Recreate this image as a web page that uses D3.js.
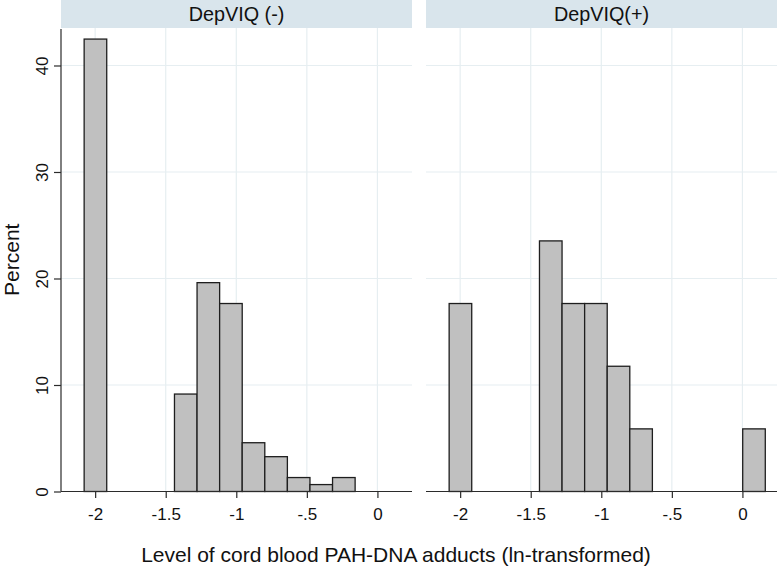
<!DOCTYPE html>
<html>
<head>
<meta charset="utf-8">
<script src="https://cdn.jsdelivr.net/npm/d3@7"></script>
<style>
  html, body { margin: 0; padding: 0; background: #ffffff; }
  svg { display: block; font-family: "Liberation Sans", Arial, Helvetica, sans-serif; }
</style>
</head>
<body>
<svg id="chart" width="779" height="569"></svg>
<script>
// ---- Data ----
const panelTitles = ["DepVIQ (-)", "DepVIQ(+)"];
const binWidth = 0.16;
// lower edges of the histogram bins (ln-transformed adduct level)
const leftBinStarts  = [-2.078, -1.438, -1.278, -1.118, -0.958, -0.798, -0.638, -0.478, -0.318];
const leftPercents   = [42.48, 9.15, 19.61, 17.65, 4.58, 3.27, 1.31, 0.65, 1.31];
const rightBinStarts = [-2.078, -1.438, -1.278, -1.118, -0.958, -0.798, 0.002];
const rightPercents  = [17.65, 23.53, 17.65, 17.65, 11.76, 5.88, 5.88];
const xTickValues = [-2, -1.5, -1, -0.5, 0];
const xTickLabels = ["-2", "-1.5", "-1", "-.5", "0"];
const yTickValues = [0, 10, 20, 30, 40];
const yTickLabels = ["0", "10", "20", "30", "40"];
const xTitle = "Level of cord blood PAH-DNA adducts (ln-transformed)";
const yTitle = "Percent";

// ---- Layout ----
const svg = d3.select("#chart");
const panels = [
  { title: panelTitles[0], starts: leftBinStarts, values: leftPercents, x0: 61, x1: 412, yAxis: true },
  { title: panelTitles[1], starts: rightBinStarts, values: rightPercents, x0: 426, x1: 777, yAxis: false }
];
const stripTop = 0, stripBottom = 28;
const plotTop = 28, plotBottom = 491.5;

const y = d3.scaleLinear().domain([0, 43.52]).range([plotBottom, plotTop]);

const gridColor = "#e6eef1";
const stripColor = "#d9e5ec";
const axisColor = "#2b2b2b";

panels.forEach(p => {
  const x = d3.scaleLinear().domain([-2.242, 0.245]).range([p.x0, p.x1]);
  const g = svg.append("g");

  // strip header
  g.append("rect")
    .attr("x", p.x0).attr("y", stripTop)
    .attr("width", p.x1 - p.x0).attr("height", stripBottom - stripTop)
    .attr("fill", stripColor);
  g.append("text")
    .attr("x", (p.x0 + p.x1) / 2).attr("y", 20.8)
    .attr("text-anchor", "middle")
    .attr("font-size", 19.8)
    .attr("fill", "#111")
    .text(p.title);

  // gridlines
  g.append("g").selectAll("line.h")
    .data(yTickValues.filter(v => v > 0))
    .join("line")
    .attr("x1", p.x0).attr("x2", p.x1)
    .attr("y1", d => y(d)).attr("y2", d => y(d))
    .attr("stroke", gridColor).attr("stroke-width", 1.2);
  g.append("g").selectAll("line.v")
    .data(xTickValues)
    .join("line")
    .attr("x1", d => x(d)).attr("x2", d => x(d))
    .attr("y1", plotTop).attr("y2", plotBottom)
    .attr("stroke", gridColor).attr("stroke-width", 1.2);

  // bars
  g.append("g").selectAll("rect")
    .data(p.starts.map((s, i) => ({ s, v: p.values[i] })))
    .join("rect")
    .attr("x", d => x(d.s))
    .attr("width", d => x(d.s + binWidth) - x(d.s))
    .attr("y", d => y(d.v))
    .attr("height", d => y(0) - y(d.v))
    .attr("fill", "#c0c0c0")
    .attr("stroke", "#1e1e1e")
    .attr("stroke-width", 1.3);

  // x axis
  const xAxis = d3.axisBottom(x)
    .tickValues(xTickValues)
    .tickFormat((d, i) => xTickLabels[i])
    .tickSizeInner(6.5).tickSizeOuter(0).tickPadding(5);
  const xg = g.append("g")
    .attr("transform", `translate(0,${plotBottom})`)
    .call(xAxis);
  xg.select(".domain").attr("stroke", axisColor).attr("stroke-width", 1.2)
    .attr("d", `M${p.x0},0H${p.x1}`);
  xg.selectAll(".tick line").attr("stroke", axisColor).attr("stroke-width", 1.2);
  xg.selectAll(".tick text")
    .attr("font-size", 17).attr("fill", "#111")
    .attr("font-family", "Liberation Sans, Arial, sans-serif")
    .attr("dy", null).attr("y", 28);

  // y axis (only first panel)
  if (p.yAxis) {
    const yAxis = d3.axisLeft(y)
      .tickValues(yTickValues)
      .tickFormat((d, i) => yTickLabels[i])
      .tickSizeInner(7).tickSizeOuter(0);
    const yg = g.append("g")
      .attr("transform", `translate(${p.x0},0)`)
      .call(yAxis);
    yg.select(".domain").attr("stroke", axisColor).attr("stroke-width", 1.2)
      .attr("d", `M0,${plotBottom}V${plotTop + 1}`);
    yg.selectAll(".tick line").attr("stroke", axisColor).attr("stroke-width", 1.2);
    yg.selectAll(".tick text")
      .attr("font-size", 17).attr("fill", "#111")
      .attr("font-family", "Liberation Sans, Arial, sans-serif")
      .attr("x", null).attr("dy", null)
      .attr("text-anchor", "middle")
      .attr("transform", "translate(-13,0) rotate(-90)");
  }
});

// axis titles
svg.append("text")
  .attr("x", 396).attr("y", 562)
  .attr("text-anchor", "middle")
  .attr("font-size", 21)
  .attr("fill", "#111")
  .text(xTitle);
svg.append("text")
  .attr("transform", `translate(18.5,${(plotTop + plotBottom) / 2}) rotate(-90)`)
  .attr("text-anchor", "middle")
  .attr("font-size", 21)
  .attr("fill", "#111")
  .text(yTitle);
</script>
</body>
</html>
